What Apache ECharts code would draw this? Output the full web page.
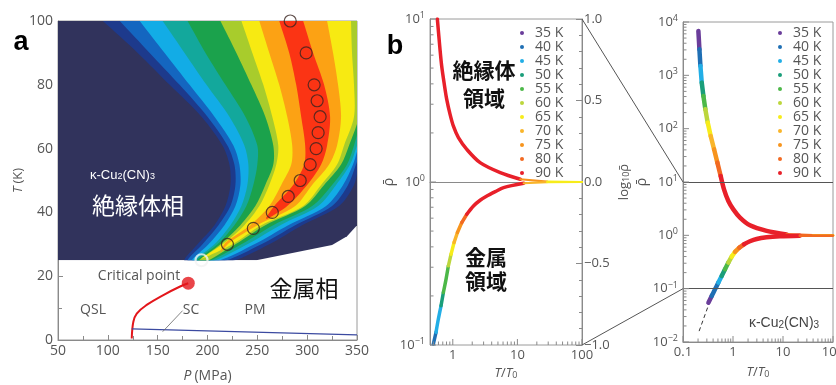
<!DOCTYPE html>
<html>
<head>
<meta charset="utf-8">
<script src="https://cdn.jsdelivr.net/npm/echarts@6.0.0/dist/echarts.min.js"></script>
<style>
  html, body { margin: 0; padding: 0; background: #fff; }
  #main { width: 836px; height: 385px; }
</style>
</head>
<body>
<div id="main"></div>
<script>
// ---------- panel a : P-T phase diagram ----------
// colour field read off the picture as contour lines, [P (MPa), T (K)], bottom -> top
const fieldColors = ['#31335c', '#1d3a8c', '#1466c0', '#12ace6', '#13a89c', '#1ba24c', '#a8cc2c', '#f7ea12', '#fca214', '#fb3414'];
const fieldEdge = [[50, 25], [249, 25], [325, 29.8], [340, 32.5], [350, 36], [350, 100], [50, 100]];
const fieldLeft = [
  [[177, 24.5], [190, 30], [207, 36], [218, 42], [223, 48.6], [222, 55], [215, 61], [194, 70], [162, 80], [130, 90], [95, 100], [84, 103]],
  [[180, 24.5], [195, 30], [211, 36], [223, 42], [228, 48.6], [227, 55], [220, 61], [200, 70], [172, 80], [142, 90], [112, 100], [103, 103]],
  [[184, 24.5], [201, 30], [217, 36], [228, 42], [233, 48.6], [232, 55], [226, 61], [207, 70], [182, 80], [157, 90], [132, 100], [125, 103]],
  [[186, 24.5], [207, 30], [223, 36], [234, 42], [240, 48.6], [241, 55], [237, 61], [222, 70], [199, 80], [177, 90], [155, 100], [148, 103]],
  [[188, 24.5], [210, 30], [227, 36], [239, 42], [246, 48.6], [250, 55], [250, 61], [238, 70], [218, 80], [198, 90], [180, 100], [174, 103]],
  [[190, 24.5], [213, 30], [233, 36], [248, 42], [258, 48.6], [266, 55], [266, 61], [258, 70], [244, 80], [229, 90], [213, 100], [208, 103]],
  [[194, 25.5], [215, 30], [237, 36], [252, 42], [262, 48.6], [269, 55], [271, 61], [265, 70], [256, 80], [245, 90], [234, 100], [230, 103]],
  [[213, 27.5], [218, 30.5], [243, 36], [262, 42], [274, 48.6], [284, 55], [285, 61], [280, 70], [272, 80], [262, 90], [252, 100], [249, 103]],
  [[259, 38], [267, 42], [286, 48.6], [297, 55], [298, 61], [294, 70], [289, 80], [282, 90], [272, 100], [269, 103]]
];
const fieldRight = [
  [[222, 24.5], [262, 30], [295, 36], [332, 42], [347, 48.6], [352, 55], [360, 61], [370, 67], [380, 75], [380, 103]],
  [[214, 24.5], [254, 30], [288, 36], [325, 42], [341, 48.6], [349, 55], [356, 61], [365, 67], [380, 75], [380, 103]],
  [[208, 24.5], [247, 30], [281, 36], [319, 42], [336, 48.6], [346, 55], [352, 61], [360, 67], [380, 75], [380, 103]],
  [[204, 24.5], [240, 30], [273, 36], [311, 42], [329, 48.6], [343, 55], [350, 61], [356, 67], [380, 75], [380, 103]],
  [[200, 24.5], [234, 30], [266, 36], [305, 42], [325, 48.6], [340, 55], [347, 61], [353, 67], [360, 70], [380, 80], [380, 103]],
  [[198, 24.5], [228, 30], [258, 36], [298, 42], [317, 48.6], [334, 55], [342, 61], [352, 70], [355, 80], [355, 90], [355, 103]],
  [[225, 30], [254, 36], [296, 42], [314, 48.6], [330, 55], [337, 61], [347, 70], [347, 80], [345, 90], [344, 100], [344, 103]],
  [[222, 30.5], [250, 36], [288, 42], [305, 48.6], [322, 55], [330, 61], [334, 70], [331, 80], [326, 90], [320, 100], [318, 103]],
  [[280, 42], [300, 48.6], [314, 55], [320, 61], [323, 70], [317, 80], [306, 90], [296, 100], [293, 103]]
];
const ridgeP = [194, 220, 246, 265, 281, 293, 303, 309, 311, 313, 310, 307, 299, 283];
const ridgeT = [25, 30, 35, 40, 45, 50, 55, 60, 65, 70, 75, 80, 90, 100];
const critP = [124, 125.6, 129, 139, 155.7, 172, 180.7];
const critT = [0.5, 5.7, 8.3, 11, 14.1, 16.7, 17.8];
const scP = [124, 350];
const scT = [3.5, 1.6];
const scPointerP = [155, 175];
const scPointerT = [2.6, 9.2];

// ---------- panel b : scaled resistivity ----------
const temps = [35, 40, 45, 50, 55, 60, 65, 70, 75, 80, 90];
const tempColors = ['#6a3d9a', '#1f6fb4', '#22aee6', '#1a9e7a', '#4cb848', '#bcd63c', '#f7ec1a', '#f9b52a', '#f7941d', '#f26a22', '#e8202a'];
// [T/T0, rho, temperature whose colour is seen from this point on]
const bLeftUpper = [
  [0.577, 10, 90], [0.635, 6.49, 90], [0.674, 5.13, 90], [0.733, 4.06, 90], [0.806, 3.21, 90],
  [0.908, 2.60, 90], [1.023, 2.20, 90], [1.223, 1.87, 90], [1.648, 1.585, 90], [2.65, 1.314, 90],
  [5.43, 1.141, 90], [11.1, 1.039, 75], [28.8, 1.005, 65], [100, 1.0, 65]
];
const bLeftLower = [
  [0.50, 0.1014, 40], [0.55, 0.1196, 45], [0.598, 0.1443, 45], [0.658, 0.174, 50], [0.715, 0.21, 55],
  [0.787, 0.2536, 55], [0.855, 0.306, 60], [0.941, 0.3607, 65], [1.047, 0.4252, 70], [1.18, 0.49, 75],
  [1.378, 0.5639, 80], [1.648, 0.634, 90], [2.09, 0.713, 90], [2.65, 0.773, 90], [3.37, 0.821, 90],
  [4.54, 0.873, 90], [6.11, 0.924, 90], [12.5, 0.982, 70], [28.8, 0.998, 65], [100, 1.0, 65]
];
const bRightUpper = [
  [0.203, 6790, 35], [0.213, 3077, 40], [0.223, 1500, 45], [0.237, 730, 50], [0.256, 410, 55],
  [0.280, 231, 60], [0.312, 130, 65], [0.358, 73, 70], [0.418, 41, 75], [0.487, 23.1, 80],
  [0.567, 13.0, 90], [0.661, 7.30, 90], [0.807, 4.41, 90], [1.015, 3.07, 90], [1.38, 2.15, 90],
  [2.18, 1.54, 90], [4.70, 1.21, 90], [11.8, 1.04, 80], [40, 1.0, 65], [100, 1.0, 65]
];
const bRightLower = [
  [0.322, 0.0547, 35], [0.375, 0.0730, 40], [0.437, 0.0973, 40], [0.510, 0.130, 45], [0.594, 0.173, 50],
  [0.692, 0.231, 55], [0.807, 0.308, 60], [0.941, 0.399, 65], [1.096, 0.488, 75], [1.338, 0.588, 80],
  [1.658, 0.679, 90], [2.18, 0.773, 90], [2.97, 0.855, 90], [4.70, 0.918, 90], [8.67, 0.959, 90],
  [21.7, 0.987, 80], [100, 0.99, 65]
];
const fitLine = [[0.21, 0.016], [0.40, 0.085]];
const bLeftX = [0.444, 100];
const bLeftY = [0.1, 10];
const bRightX = [0.1, 100];
const bRightY = [0.01, 10000];

const zip = (a, b) => a.map((v, i) => [v, b[i]]);
const grey = '#8a8a8a';
const txt = '#555';
const lineStyle = { color: grey, width: 1 };

function isPow10(v) {
  const l = Math.log10(v);
  return Math.abs(l - Math.round(l)) < 1e-6;
}
function powLabel(v) {
  if (!isPow10(v)) return '';
  const e = Math.round(Math.log10(v));
  return '{b|10}{s|' + (e < 0 ? '\u2212' + (-e) : e) + '}';
}
function decLabel(v) {
  return isPow10(v) ? String(+v.toPrecision(3)) : '';
}
const powRich = {
  b: { fontSize: 13, color: txt, lineHeight: 16 },
  s: { fontSize: 9, color: txt, verticalAlign: 'top', lineHeight: 10 }
};
const nameRich = {
  i: { fontStyle: 'italic', fontSize: 13, color: txt },
  n: { fontSize: 13, color: txt },
  s: { fontSize: 9, color: txt, verticalAlign: 'bottom', lineHeight: 10 }
};

// field polygons: level 0 is the frame, level k is inside contour k
const fieldPolys = [fieldEdge].concat(fieldLeft.map((l, i) => l.concat(fieldRight[i].slice().reverse())));

function decadeTicks(lo, hi) {
  const out = [];
  for (let e = Math.floor(Math.log10(lo) + 1e-9); e <= Math.ceil(Math.log10(hi) - 1e-9); e++) {
    for (let m = 1; m <= 9; m++) {
      const v = m * Math.pow(10, e);
      if (v >= lo * 0.999 && v <= hi * 1.001) out.push([v, m === 1]);
    }
  }
  return out;
}
function logTickSeries(xi, yi, xr, yr) {
  const items = [];
  decadeTicks(xr[0], xr[1]).forEach(([v, big]) => items.push([v, yr[0], big ? 6 : 3.5, 0]));
  decadeTicks(yr[0], yr[1]).forEach(([v, big]) => items.push([xr[0], v, big ? 6 : 3.5, 1]));
  return {
    type: 'custom', xAxisIndex: xi, yAxisIndex: yi, silent: true, z: 6, data: items,
    renderItem(params, api) {
      const p = api.coord([api.value(0), api.value(1)]);
      const len = api.value(2);
      const horiz = api.value(3) === 1;
      return {
        type: 'line',
        shape: { x1: p[0], y1: p[1], x2: horiz ? p[0] + len : p[0], y2: horiz ? p[1] : p[1] - len },
        style: { stroke: grey, lineWidth: 1 }
      };
    }
  };
}

// one line series per run of equal colour; the flat tail beyond T/T0 = 10 is thinner
function branchRuns(branch, xi, yi, width) {
  const out = [];
  let i = 0;
  while (i < branch.length - 1) {
    const t = branch[i][2];
    const pts = [[branch[i][0], branch[i][1]]];
    let j = i;
    while (j < branch.length - 1 && branch[j][2] === t) {
      j++;
      pts.push([branch[j][0], branch[j][1]]);
    }
    const k = temps.indexOf(t);
    const w = branch[i][0] >= 10 ? width * 0.6 : width;
    out.push({
      type: 'line', name: t + ' K', xAxisIndex: xi, yAxisIndex: yi, data: pts,
      showSymbol: false, symbol: 'none', smooth: 0.3, silent: true, z: 3,
      color: tempColors[k], itemStyle: { color: tempColors[k] },
      lineStyle: { width: w, color: tempColors[k], cap: 'round', join: 'round' }
    });
    i = j;
  }
  return out;
}

const chart = echarts.init(document.getElementById('main'));

const gridBase = { show: true, borderColor: '#9a9a9a', borderWidth: 1, backgroundColor: 'transparent', containLabel: false, outerBoundsMode: 'none' };

const option = {
  animation: false,
  textStyle: { fontFamily: 'Open Sans' },
  grid: [
    Object.assign({ left: 58, top: 21, width: 299, height: 319 }, gridBase),
    Object.assign({ left: 430, top: 19, width: 152, height: 326 }, gridBase),
    Object.assign({ left: 683, top: 22, width: 150, height: 320 }, gridBase)
  ],
  xAxis: [
    {
      gridIndex: 0, type: 'value', min: 50, max: 350, interval: 50,
      axisLine: { show: true, lineStyle }, splitLine: { show: false },
      axisTick: { show: true, inside: true, length: 5, lineStyle },
      minorTick: { show: true, splitNumber: 2, length: 4, lineStyle },
      axisLabel: { color: txt, fontSize: 14, margin: 4 },
      name: '{i|P} {n|(MPa)}', nameLocation: 'middle', nameGap: 29,
      nameTextStyle: { rich: { i: { fontStyle: 'italic', fontSize: 14, color: txt }, n: { fontSize: 14, color: txt } } }
    },
    {
      gridIndex: 1, type: 'log', logBase: 10, min: bLeftX[0], max: bLeftX[1],
      axisLine: { show: true, lineStyle }, splitLine: { show: false }, axisTick: { show: false },
      axisLabel: { color: txt, fontSize: 13, margin: 4, formatter: decLabel },
      name: '{i|T}{n|/}{i|T}{s|0}', nameLocation: 'middle', nameGap: 18,
      nameTextStyle: { rich: nameRich }
    },
    {
      gridIndex: 2, type: 'log', logBase: 10, min: bRightX[0], max: bRightX[1],
      axisLine: { show: true, lineStyle }, splitLine: { show: false }, axisTick: { show: false },
      axisLabel: { color: txt, fontSize: 13, margin: 4, formatter: decLabel },
      name: '{i|T}{n|/}{i|T}{s|0}', nameLocation: 'middle', nameGap: 24,
      nameTextStyle: { rich: nameRich }
    }
  ],
  yAxis: [
    {
      gridIndex: 0, type: 'value', min: 0, max: 100, interval: 20,
      axisLine: { show: true, lineStyle }, splitLine: { show: false },
      axisTick: { show: true, inside: true, length: 5, lineStyle },
      minorTick: { show: true, splitNumber: 2, length: 4, lineStyle },
      axisLabel: { color: txt, fontSize: 14, margin: 5 },
      name: '{i|T} {n|(K)}', nameLocation: 'middle', nameGap: 32, nameRotate: 90,
      nameTextStyle: { rich: { i: { fontStyle: 'italic', fontSize: 13, color: txt }, n: { fontSize: 13, color: txt } } }
    },
    {
      gridIndex: 1, type: 'log', logBase: 10, min: bLeftY[0], max: bLeftY[1],
      axisLine: { show: true, lineStyle }, splitLine: { show: false }, axisTick: { show: false },
      axisLabel: { formatter: powLabel, rich: powRich, margin: 5 },
      name: '\u03c1\u0304', nameLocation: 'middle', nameGap: 33, nameRotate: 90,
      nameTextStyle: { color: txt, fontSize: 14 }
    },
    {
      gridIndex: 1, type: 'value', position: 'right', min: -1, max: 1, interval: 0.5,
      axisLine: { show: true, lineStyle }, splitLine: { show: false },
      axisTick: { show: true, inside: true, length: 6, lineStyle },
      minorTick: { show: true, splitNumber: 5, length: 3, lineStyle },
      axisLabel: {
        color: txt, fontSize: 13, margin: 2,
        formatter: v => (v < 0 ? '\u2212' : '') + Math.abs(v).toFixed(1)
      },
      name: '{n|log}{s|10}{n|\u03c1\u0304}', nameLocation: 'middle', nameGap: 36, nameRotate: 90,
      nameTextStyle: { rich: nameRich }
    },
    {
      gridIndex: 2, type: 'log', logBase: 10, min: bRightY[0], max: bRightY[1],
      axisLine: { show: true, lineStyle }, splitLine: { show: false }, axisTick: { show: false },
      axisLabel: { formatter: powLabel, rich: powRich, margin: 5 },
      name: '\u03c1\u0304', nameLocation: 'middle', nameGap: 26, nameRotate: 90,
      nameTextStyle: { color: txt, fontSize: 14 }
    }
  ],
  legend: [520, 778].map(left => ({
    orient: 'vertical', left, top: 26, padding: 0,
    data: temps.map(t => t + ' K'), icon: 'circle',
    itemWidth: 4, itemHeight: 4, itemGap: 0, selectedMode: false,
    textStyle: { color: txt, fontSize: 14, lineHeight: 14, padding: [0, 0, 0, 6] }
  })),
  series: [
    {
      type: 'custom', xAxisIndex: 0, yAxisIndex: 0, silent: true, z: 1,
      data: fieldPolys.map(poly => poly[0]),
      renderItem(params, api) {
        const k = params.dataIndex;
        const pts = fieldPolys[k].map(p => api.coord(p));
        const a = api.coord([50, 100]);
        const b = api.coord([350, 25]);
        return {
          type: 'polygon',
          shape: { points: pts, smooth: k === 0 ? 0 : 0.3 },
          style: { fill: fieldColors[k] },
          clipPath: { type: 'rect', shape: { x: a[0], y: a[1], width: b[0] - a[0], height: b[1] - a[1] } }
        };
      }
    },
    {
      type: 'line', xAxisIndex: 0, yAxisIndex: 0, data: zip(critP, critT), smooth: 0.4,
      showSymbol: false, silent: true, z: 3, lineStyle: { color: '#e3161b', width: 2 }
    },
    {
      type: 'line', xAxisIndex: 0, yAxisIndex: 0, data: zip(scP, scT),
      showSymbol: false, silent: true, z: 3, lineStyle: { color: '#3b4aa0', width: 1.3 }
    },
    {
      type: 'line', xAxisIndex: 0, yAxisIndex: 0, data: zip(scPointerP, scPointerT),
      showSymbol: false, silent: true, z: 3, lineStyle: { color: '#666', width: 0.8 }
    },
    {
      type: 'scatter', xAxisIndex: 0, yAxisIndex: 0, silent: true, z: 4, symbolSize: 12,
      data: zip(ridgeP, ridgeT).map((p, i) => i === 0
        ? { value: p, itemStyle: { color: 'rgba(0,0,0,0)', borderColor: '#f2f2f2', borderWidth: 2.2 } }
        : p),
      itemStyle: { color: 'rgba(0,0,0,0)', borderColor: '#3a2420', borderWidth: 1.2 }
    },
    {
      type: 'scatter', xAxisIndex: 0, yAxisIndex: 0, silent: true, z: 4, symbolSize: 13,
      data: [[critP[critP.length - 1], critT[critT.length - 1]]], itemStyle: { color: '#e3161b' }
    },
    ...branchRuns(bLeftUpper, 1, 1, 3.5),
    ...branchRuns(bLeftLower, 1, 1, 3.5),
    ...branchRuns(bRightUpper, 2, 3, 4.5),
    ...branchRuns(bRightLower, 2, 3, 4.5),
    {
      type: 'line', xAxisIndex: 2, yAxisIndex: 3, data: fitLine, showSymbol: false, silent: true, z: 2,
      lineStyle: { color: '#333', width: 1, type: [4, 3] },
      markLine: {
        silent: true, symbol: ['none', 'none'], label: { show: false },
        lineStyle: { color: '#555', width: 1, type: 'solid' },
        data: [{ yAxis: bLeftY[0] }, { yAxis: bLeftY[1] }]
      }
    },
    logTickSeries(1, 1, bLeftX, bLeftY),
    logTickSeries(2, 3, bRightX, bRightY)
  ]
};
chart.setOption(option);

function label(x, y, text, style) {
  return {
    type: 'text', x, y, z: 100, silent: true,
    style: Object.assign({ text, align: 'center', verticalAlign: 'middle', fill: txt, fontSize: 14, fontFamily: 'Open Sans' }, style)
  };
}
const cjk = 'Noto Sans CJK JP';
const cuRich = {
  a: { fontSize: 13 },
  s: { fontSize: 9, verticalAlign: 'bottom', lineHeight: 10 }
};
const tl = chart.convertToPixel({ xAxisIndex: 1, yAxisIndex: 1 }, [bLeftX[1], bLeftY[1]]);
const bl = chart.convertToPixel({ xAxisIndex: 1, yAxisIndex: 1 }, [bLeftX[1], bLeftY[0]]);
const tr = chart.convertToPixel({ xAxisIndex: 2, yAxisIndex: 3 }, [bRightX[0], bLeftY[1]]);
const br = chart.convertToPixel({ xAxisIndex: 2, yAxisIndex: 3 }, [bRightX[0], bLeftY[0]]);

chart.setOption({
  graphic: [
    label(21, 43, 'a', { fill: '#000', fontSize: 27, fontWeight: 'bold', fontFamily: 'Liberation Sans' }),
    label(395, 47, 'b', { fill: '#000', fontSize: 27, fontWeight: 'bold', fontFamily: 'Liberation Sans' }),
    label(90, 175, '{a|\u03ba-Cu}{s|2}{a|(CN)}{s|3}', { align: 'left', fill: '#fff', rich: cuRich }),
    label(138, 205, '絶縁体相', { fill: '#fff', fontSize: 23, fontFamily: cjk }),
    label(139, 276, 'Critical point', { fontSize: 14 }),
    label(93, 310, 'QSL'),
    label(191, 310, 'SC'),
    label(255, 310, 'PM'),
    label(304, 288, '金属相', { fill: '#111', fontSize: 23, fontFamily: cjk }),
    label(484, 84, '絶縁体\n領域', { fill: '#111', fontSize: 21, fontWeight: 'bold', fontFamily: cjk, lineHeight: 28 }),
    label(486, 269, '金属\n領域', { fill: '#111', fontSize: 21, fontWeight: 'bold', fontFamily: cjk, lineHeight: 24 }),
    label(784, 323, '{a|\u03ba-Cu}{s|2}{a|(CN)}{s|3}', { fill: '#444', rich: { a: { fontSize: 14 }, s: { fontSize: 10, verticalAlign: 'bottom', lineHeight: 10 } } }),
    { type: 'line', z: 50, silent: true, shape: { x1: tl[0], y1: tl[1], x2: tr[0], y2: tr[1] }, style: { stroke: '#555', lineWidth: 1 } },
    { type: 'line', z: 50, silent: true, shape: { x1: bl[0], y1: bl[1], x2: br[0], y2: br[1] }, style: { stroke: '#555', lineWidth: 1 } }
  ]
});
</script>
</body>
</html>
